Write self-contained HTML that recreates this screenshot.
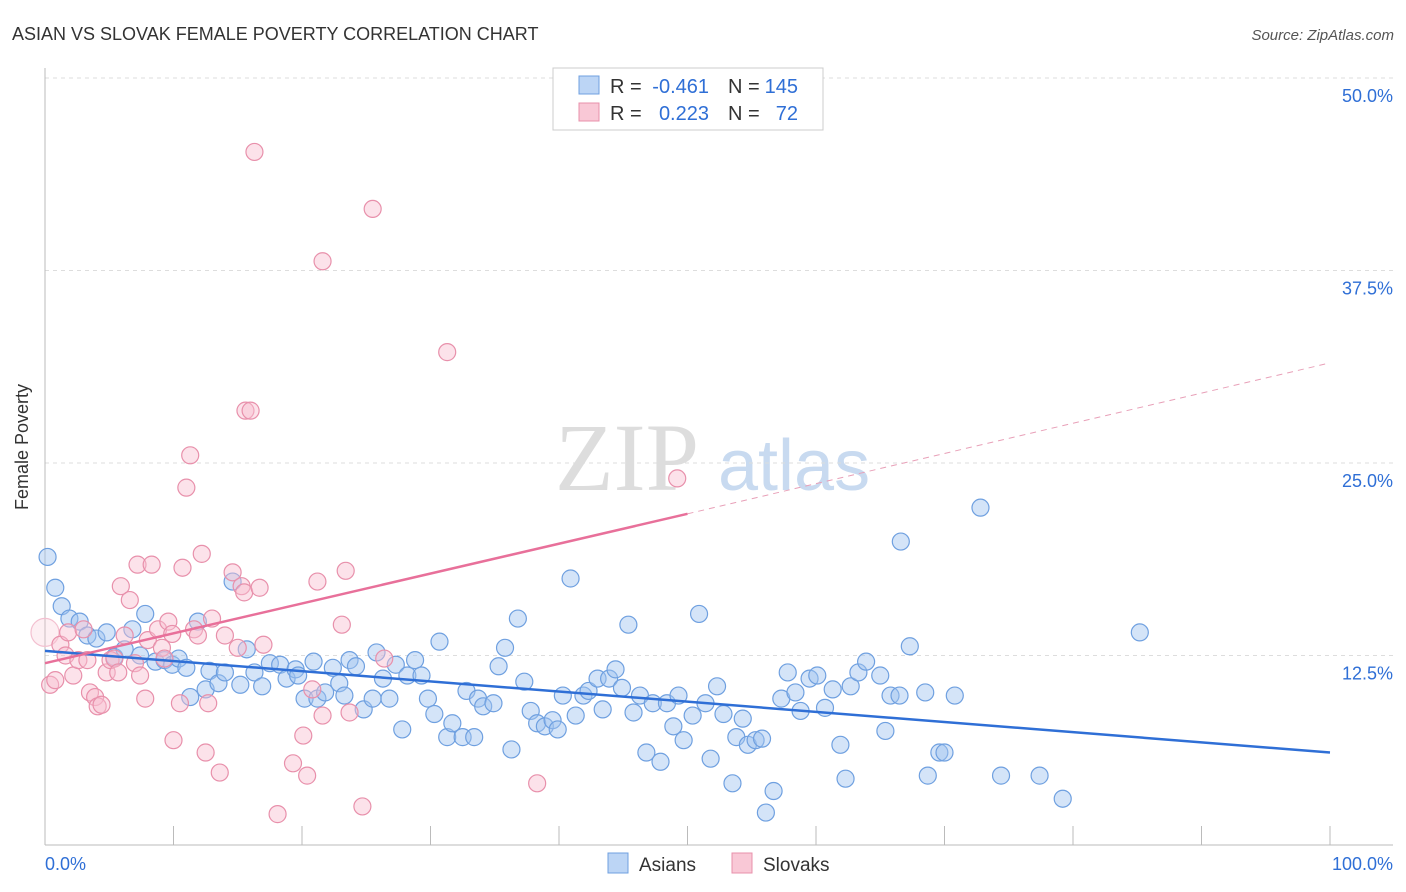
<!DOCTYPE html>
<html><head><meta charset="utf-8"><style>
body{margin:0;background:#fff;font-family:"Liberation Sans",sans-serif;}
svg{display:block}
</style></head><body>
<svg id="c" width="1406" height="892">
<text x="12" y="40" font-size="18" fill="#333">ASIAN VS SLOVAK FEMALE POVERTY CORRELATION CHART</text>
<text x="1394" y="40" font-size="15" fill="#555" font-style="italic" text-anchor="end">Source: ZipAtlas.com</text>
<g>
<text x="555" y="490" font-size="96" fill="#ddd" font-family="Liberation Serif,serif">ZIP</text>
<text x="718" y="490" font-size="72" fill="#c8daf0">atlas</text>
</g>
<g id="grid"></g>
<g id="axes"></g>
<g id="pts"></g>
<g id="lines"></g>
<text x="36" y="455" font-size="18" fill="#333" text-anchor="middle" transform="rotate(-90 28 455)">Female Poverty</text>
<g>
<rect x="553" y="68" width="270" height="62" fill="#fff" stroke="#ccc"/>
<rect x="579" y="76" width="20" height="18" fill="#bcd5f5" stroke="#6fa0e0"/>
<rect x="579" y="103" width="20" height="18" fill="#f9c8d6" stroke="#e890ab"/>
<text x="610" y="93" font-size="20" fill="#333">R =</text>
<text x="709" y="93" font-size="20" fill="#2f6fd6" text-anchor="end">-0.461</text>
<text x="728" y="93" font-size="20" fill="#333">N =</text>
<text x="798" y="93" font-size="20" fill="#2f6fd6" text-anchor="end">145</text>
<text x="610" y="120" font-size="20" fill="#333">R =</text>
<text x="709" y="120" font-size="20" fill="#2f6fd6" text-anchor="end">0.223</text>
<text x="728" y="120" font-size="20" fill="#333">N =</text>
<text x="798" y="120" font-size="20" fill="#2f6fd6" text-anchor="end">72</text>
</g>
<g>
<rect x="608" y="853" width="20" height="20" fill="#bcd5f5" stroke="#6fa0e0"/>
<text x="639" y="871" font-size="19" fill="#333">Asians</text>
<rect x="732" y="853" width="20" height="20" fill="#f9c8d6" stroke="#e890ab"/>
<text x="763" y="871" font-size="19" fill="#333">Slovaks</text>
</g>
</svg>
<script>
const asianX=[0.2,0.8,1.3,1.9,2.7,3.3,4.0,4.8,5.4,6.2,6.8,7.4,7.8,8.6,9.3,9.9,10.4,11.0,11.3,11.9,12.5,12.8,13.5,14.0,14.6,15.2,15.7,16.3,16.9,17.5,18.3,18.8,19.5,19.7,20.2,20.9,21.2,21.8,22.4,22.9,23.3,23.7,24.2,24.8,25.5,25.8,26.3,26.8,27.3,27.8,28.2,28.8,29.3,29.8,30.3,30.7,31.3,31.7,32.5,32.8,33.4,33.7,34.1,34.9,35.3,35.8,36.3,36.8,37.3,37.8,38.3,38.9,39.5,39.9,40.3,40.9,41.3,41.9,42.3,43.0,43.4,43.9,44.4,44.9,45.4,45.8,46.3,46.8,47.3,47.9,48.4,48.9,49.3,49.7,50.4,50.9,51.4,51.8,52.3,52.8,53.5,53.8,54.3,54.7,55.3,55.8,56.1,56.7,57.3,57.8,58.4,58.8,59.5,60.1,60.7,61.3,61.9,62.3,62.7,63.3,63.9,65.0,65.4,65.8,66.5,66.6,67.3,68.5,68.7,69.6,70.0,70.8,72.8,74.4,77.4,79.2,85.2];
const asianY=[18.9,16.9,15.7,14.9,14.7,13.8,13.6,14.0,12.4,12.9,14.2,12.5,15.2,12.1,12.2,11.9,12.3,11.7,9.8,14.7,10.3,11.5,10.7,11.4,17.3,10.6,12.9,11.4,10.5,12.0,11.9,11.0,11.6,11.2,9.7,12.1,9.7,10.1,11.7,10.7,9.9,12.2,11.8,9.0,9.7,12.7,11.0,9.7,11.9,7.7,11.2,12.2,11.2,9.7,8.7,13.4,7.2,8.1,7.2,10.2,7.2,9.7,9.2,9.4,11.8,13.0,6.4,14.9,10.8,8.9,8.1,7.9,8.3,7.7,9.9,17.5,8.6,9.9,10.2,11.0,9.0,11.0,11.6,10.4,14.5,8.8,9.9,6.2,9.4,5.6,9.4,7.9,9.9,7.0,8.6,15.2,9.4,5.8,10.5,8.7,4.2,7.2,8.4,6.7,7.0,7.1,2.3,3.7,9.7,11.4,10.1,8.9,11.0,11.2,9.1,10.3,6.7,4.5,10.5,11.4,12.1,11.2,7.6,9.9,9.9,19.9,13.1,10.1,4.7,6.2,6.2,9.9,22.1,4.7,4.7,3.2,14.0];
const slovakX=[0,0.4,0.8,1.2,1.6,1.8,2.2,2.6,3.0,3.3,3.5,3.9,4.1,4.4,4.8,5.1,5.4,5.7,5.9,6.2,6.6,7.0,7.2,7.4,7.8,8.0,8.3,8.8,9.1,9.3,9.6,9.9,10.0,10.5,10.7,11.0,11.3,11.6,11.9,12.2,12.5,12.7,13.0,13.6,14.0,14.6,15.0,15.3,15.5,15.6,16.0,16.3,16.7,17.0,18.1,19.3,20.1,20.4,20.8,21.2,21.6,21.6,23.1,23.4,23.7,24.7,25.5,26.4,31.3,38.3,49.2];
const slovakY=[14.0,10.6,10.9,13.2,12.5,14.0,11.2,12.2,14.2,12.2,10.1,9.8,9.2,9.3,11.4,12.2,12.3,11.4,17.0,13.8,16.1,12.0,18.4,11.2,9.7,13.5,18.4,14.2,13.0,12.3,14.7,13.9,7.0,9.4,18.2,23.4,25.5,14.2,13.8,19.1,6.2,9.4,14.9,4.9,13.8,17.9,13.0,17.0,16.6,28.4,28.4,45.2,16.9,13.2,2.2,5.5,7.3,4.7,10.3,17.3,8.6,38.1,14.5,18.0,8.8,2.7,41.5,12.3,32.2,4.2,24.0];
const yTicks=[12.5,25,37.5,50];
const xTickLabels=["0.0%","100.0%"];
const asianTrend=[12.8,6.2];
const slovakTrend=[12.0,21.7,31.5];
const NS="http://www.w3.org/2000/svg";
const X=v=>45+v*12.85, Y=v=>848-v*15.4;
function mk(p,t,a){const e=document.createElementNS(NS,t);for(const k in a)e.setAttribute(k,a[k]);p.appendChild(e);return e;}
const grid=document.getElementById('grid'),axes=document.getElementById('axes'),pts=document.getElementById('pts'),lines=document.getElementById('lines');
yTicks.forEach(t=>{
 const l=mk(grid,'line',{x1:45,x2:1393,y1:Y(t),y2:Y(t),stroke:'#ddd','stroke-dasharray':'4,4'});
 
 
 const tx=mk(axes,'text',{x:1393,y:Y(t)+24,'font-size':18,fill:'#2f6fd6','text-anchor':'end'});
 tx.textContent=t.toFixed(1)+'%';
 
 
});
mk(axes,'line',{x1:45,x2:45,y1:68,y2:845,stroke:'#bbb'});
mk(axes,'line',{x1:45,x2:1393,y1:845,y2:845,stroke:'#bbb'});
for(let i=0;i<=10;i++){const t=mk(axes,'line',{x1:X(i*10),x2:X(i*10),y1:826,y2:845,stroke:'#bbb'});
 
 }
[[0,'start',45],[1,'end',1393]].forEach(([i,a,x])=>{const t=mk(axes,'text',{x:x,y:870,'font-size':18,fill:'#2f6fd6','text-anchor':a});t.textContent=xTickLabels[i];
 
 });
asianX.forEach((x,i)=>{const c=mk(pts,'circle',{cx:X(x),cy:Y(asianY[i]),r:8.5,fill:'rgba(160,195,240,0.45)',stroke:'#6fa0e0','stroke-width':1.2});
 
 });
slovakX.forEach((x,i)=>{const c=mk(pts,'circle',{cx:X(x),cy:Y(slovakY[i]),r:i==0?14:8.5,fill:i==0?'rgba(248,190,208,0.25)':'rgba(248,190,208,0.45)',stroke:i==0?'#f3c0d0':'#e890ab','stroke-width':1.2});
 
 });
const a=mk(lines,'line',{x1:X(0),y1:Y(asianTrend[0]),x2:X(100),y2:Y(asianTrend[1]),stroke:'#2f6fd6','stroke-width':2.5});


const s=mk(lines,'line',{x1:X(0),y1:Y(slovakTrend[0]),x2:X(50),y2:Y(slovakTrend[1]),stroke:'#e8709a','stroke-width':2.5});


const d=mk(lines,'line',{x1:X(50),y1:Y(slovakTrend[1]),x2:X(100),y2:Y(slovakTrend[2]),stroke:'#e8a0b8','stroke-width':1,'stroke-dasharray':'6,5'});


</script>
</body></html>
